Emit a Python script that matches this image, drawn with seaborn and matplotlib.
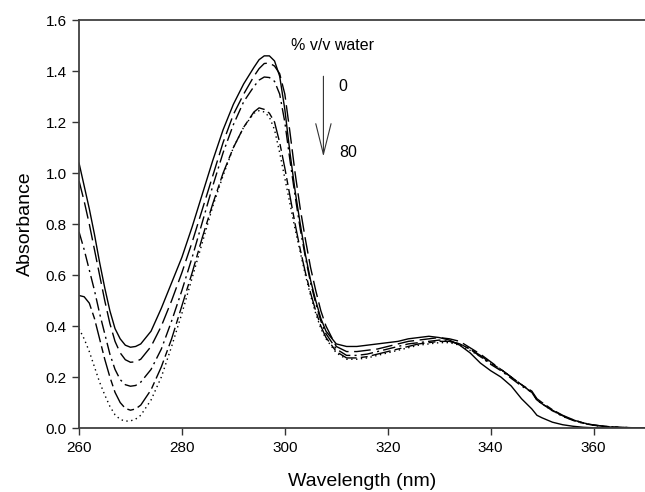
import matplotlib
matplotlib.use("Agg")
import matplotlib.pyplot as plt
import seaborn as sns
import pandas as pd

# ---- data -------------------------------------------------------------
wavelength = [260, 261, 262, 263, 264, 265, 266, 267, 268, 269, 270, 271, 272,
              274, 276, 278, 280, 282, 284, 286, 288, 290, 292,
              294, 295, 296, 297, 298, 299, 300, 301, 302, 303, 304, 305, 306, 307, 308,
              310, 312, 314, 316, 318, 320, 322, 324, 326, 328, 330, 332, 334, 336, 338,
              340, 342, 344, 346, 348, 349, 350, 352, 354, 356, 358, 360, 362, 364, 366,
              368, 370]

water_0 = [1.04, 0.95, 0.86, 0.76, 0.65, 0.55, 0.46, 0.39, 0.35, 0.325, 0.317, 0.32, 0.33,
           0.38, 0.47, 0.57, 0.67, 0.79, 0.92, 1.05, 1.17, 1.27, 1.35,
           1.415, 1.445, 1.46, 1.46, 1.44, 1.38, 1.25, 1.08, 0.93, 0.80, 0.68, 0.58, 0.50, 0.43, 0.38,
           0.33, 0.32, 0.32, 0.325, 0.33, 0.335, 0.34, 0.35, 0.355, 0.36, 0.355, 0.345, 0.325, 0.295, 0.255,
           0.225, 0.20, 0.165, 0.115, 0.075, 0.05, 0.04, 0.023, 0.013, 0.007, 0.003, 0.001, 0.0, 0.0, 0.0,
           0.0, 0.0]

water_20 = [0.97, 0.89, 0.80, 0.70, 0.60, 0.50, 0.41, 0.34, 0.295, 0.268, 0.258, 0.26, 0.27,
            0.32, 0.40, 0.50, 0.61, 0.73, 0.86, 0.99, 1.12, 1.23, 1.31,
            1.38, 1.41, 1.43, 1.432, 1.42, 1.39, 1.31, 1.16, 1.00, 0.86, 0.74, 0.63, 0.54, 0.46, 0.40,
            0.32, 0.30, 0.30, 0.305, 0.31, 0.32, 0.33, 0.34, 0.345, 0.35, 0.355, 0.35, 0.34, 0.315, 0.29,
            0.26, 0.23, 0.20, 0.17, 0.14, 0.11, 0.095, 0.07, 0.048, 0.032, 0.02, 0.012, 0.007, 0.004, 0.002,
            0.001, 0.0]

water_40 = [0.77, 0.70, 0.62, 0.54, 0.45, 0.37, 0.29, 0.23, 0.19, 0.17, 0.164, 0.167, 0.18,
            0.23, 0.31, 0.42, 0.54, 0.67, 0.81, 0.95, 1.08, 1.19, 1.28,
            1.34, 1.365, 1.377, 1.375, 1.36, 1.31, 1.20, 1.05, 0.91, 0.78, 0.67, 0.57, 0.49, 0.42, 0.37,
            0.31, 0.285, 0.285, 0.29, 0.30, 0.31, 0.32, 0.33, 0.335, 0.34, 0.345, 0.34, 0.33, 0.31, 0.28,
            0.25, 0.225, 0.195, 0.165, 0.14, 0.11, 0.095, 0.068, 0.046, 0.03, 0.018, 0.011, 0.006, 0.003, 0.002,
            0.001, 0.0]

water_60 = [0.52, 0.515, 0.49, 0.43, 0.35, 0.27, 0.20, 0.14, 0.10, 0.077, 0.07, 0.075, 0.09,
            0.15, 0.24, 0.35, 0.48, 0.61, 0.75, 0.88, 1.00, 1.10, 1.18,
            1.24, 1.256, 1.25, 1.235, 1.20, 1.12, 1.02, 0.91, 0.80, 0.70, 0.61, 0.53, 0.46, 0.40, 0.355,
            0.30, 0.275, 0.275, 0.28, 0.29, 0.30, 0.31, 0.32, 0.33, 0.335, 0.34, 0.34, 0.33, 0.31, 0.285,
            0.255, 0.23, 0.20, 0.17, 0.145, 0.115, 0.10, 0.072, 0.05, 0.033, 0.02, 0.012, 0.007, 0.004, 0.002,
            0.001, 0.0]

water_80 = [0.39, 0.35, 0.30, 0.24, 0.18, 0.13, 0.085, 0.052, 0.034, 0.027, 0.028, 0.035, 0.05,
            0.11, 0.20, 0.32, 0.45, 0.59, 0.73, 0.87, 0.99, 1.10, 1.18,
            1.235, 1.245, 1.24, 1.22, 1.17, 1.08, 0.98, 0.88, 0.78, 0.69, 0.60, 0.52, 0.45, 0.39, 0.35,
            0.295, 0.27, 0.27, 0.275, 0.285, 0.295, 0.305, 0.315, 0.325, 0.33, 0.335, 0.335, 0.325, 0.305, 0.28,
            0.255, 0.23, 0.20, 0.17, 0.14, 0.11, 0.095, 0.068, 0.047, 0.031, 0.019, 0.011, 0.006, 0.003, 0.002,
            0.001, 0.0]

series_names = ["0", "20", "40", "60", "80"]
series_values = [water_0, water_20, water_40, water_60, water_80]

x_ticks = [260, 280, 300, 320, 340, 360]
y_ticks = [0.0, 0.2, 0.4, 0.6, 0.8, 1.0, 1.2, 1.4, 1.6]

# ---- long-form table --------------------------------------------------
frames = []
for name, vals in zip(series_names, series_values):
    frames.append(pd.DataFrame({"Wavelength": wavelength,
                                "Absorbance": vals,
                                "water": name}))
df = pd.concat(frames, ignore_index=True)

# ---- style ------------------------------------------------------------
sns.set_theme(style="ticks")
plt.rcParams["font.family"] = ["Liberation Sans", "DejaVu Sans"]

fig = plt.figure(figsize=(6.45, 4.92), dpi=100)
ax = fig.add_axes([0.1225, 0.130, 0.8775, 0.829])

dash_map = {"0": "",
            "20": (12, 4),
            "40": (9, 3, 1.5, 3),
            "60": (14, 3, 5, 3),
            "80": (1, 2.5)}

sns.lineplot(data=df, x="Wavelength", y="Absorbance", style="water",
             style_order=series_names, dashes=dash_map, color="black",
             linewidth=1.0, estimator=None, sort=False, legend=False, ax=ax)

ax.set_xlim(260, 370)
ax.set_ylim(0, 1.6)
ax.set_xticks(x_ticks)
ax.set_yticks(y_ticks)
ax.set_xticklabels([str(t) for t in x_ticks])
ax.set_yticklabels([f"{t:.1f}" for t in y_ticks])
ax.tick_params(axis="both", labelsize=11, length=5, width=1, color="#333333",
               labelcolor="black", direction="out", pad=4)
ax.set_xlabel("Wavelength (nm)", fontsize=14, labelpad=13, color="black")
ax.set_ylabel("Absorbance", fontsize=14, labelpad=8, color="black")

for side in ["left", "bottom", "top"]:
    ax.spines[side].set_color("#404040")
    ax.spines[side].set_linewidth(1.3)
ax.spines["right"].set_visible(False)

# annotation: arrow from 0 to 80 % water
ax.text(301.2, 1.50, "% v/v water", fontsize=11.5, ha="left", va="center", color="black")
ax.annotate("", xy=(307.5, 1.065), xytext=(307.5, 1.38),
            arrowprops=dict(arrowstyle="->,head_length=2.2,head_width=0.55",
                            color="#333333", lw=0.8, mutation_scale=10,
                            shrinkA=0, shrinkB=0))
ax.text(310.5, 1.34, "0", fontsize=11.5, ha="left", va="center", color="black")
ax.text(310.5, 1.08, "80", fontsize=11.5, ha="left", va="center", color="black")

fig.savefig("out.png", dpi=100)
